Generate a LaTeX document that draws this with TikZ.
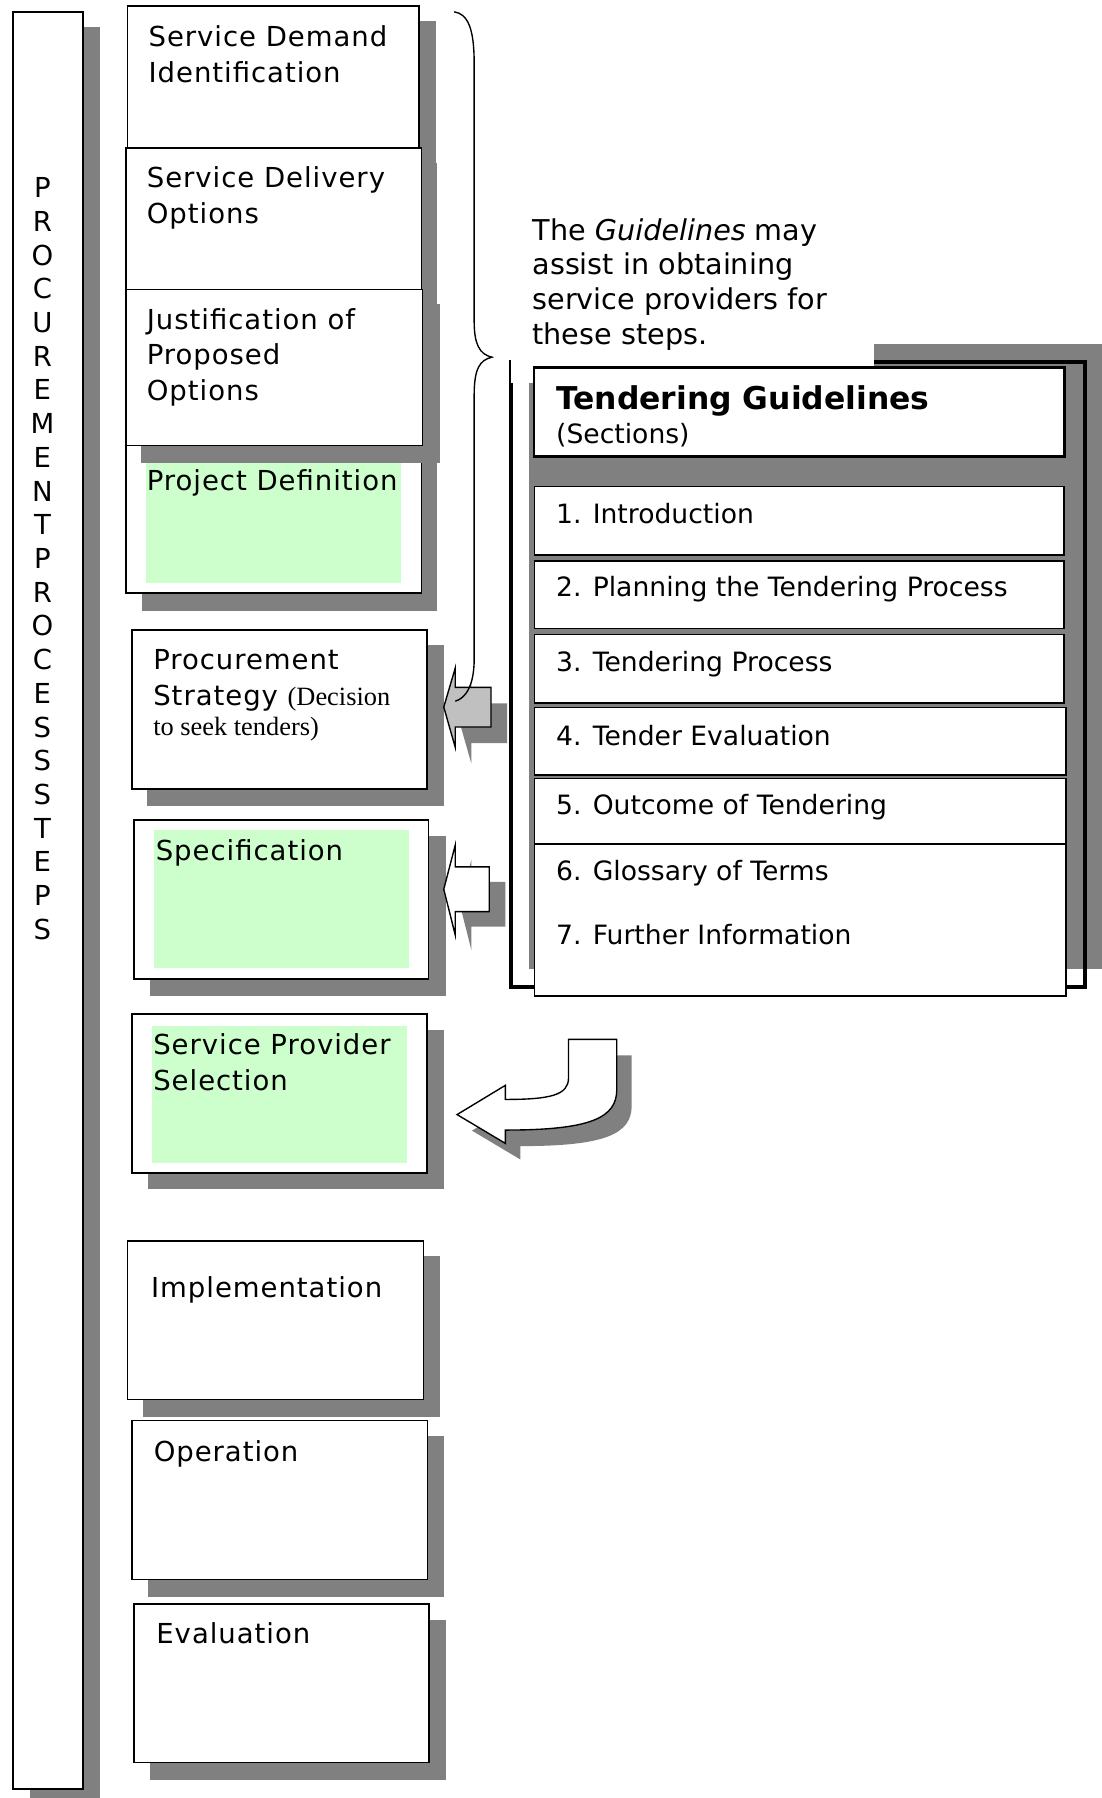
\documentclass[tikz,border=0pt]{standalone}
\usepackage{fontspec}
\usepackage{tikz}
\setmainfont{DejaVu Sans}
\newfontfamily\stepfont[LetterSpace=3.5]{DejaVu Sans}
\newfontfamily\notefont{Liberation Serif}
\definecolor{shadowgray}{RGB}{128,128,128}
\definecolor{paleGreen}{RGB}{204,255,204}
\definecolor{arrowgray}{RGB}{192,192,192}

\begin{document}
\begin{tikzpicture}[x=0.5pt,y=0.5pt]
\tikzstyle{every node}+=[inner sep=0pt]
\tikzstyle{shadowfill}=[fill=shadowgray]
\tikzstyle{stepbox}=[draw=black, fill=white, line width=0.75pt]
\tikzstyle{steptext}=[anchor=base west, align=left, font=\stepfont\fontsize{12}{15.5}\selectfont]
\tikzstyle{sectbox}=[draw=black, fill=white, line width=0.7pt]
\tikzstyle{secttext}=[anchor=base west, font=\fontsize{11.6}{14}\selectfont]
\tikzstyle{blockarrow}=[draw=black, line width=0.6pt]
\useasboundingbox (0,0) rectangle (961,-1568);
% side bar (multi-line nodes sit on the base of their last line)
\fill [shadowfill] (26.5,-23.4) rectangle (87,-1568);
\draw [stepbox] (11.5,-10.3) rectangle (72.1,-1560.3);
\node [anchor=base, align=center, font=\fontsize{12}{14.7}\selectfont] (sidelabel) at (37,-819.2)
  {P\\R\\O\\C\\U\\R\\E\\M\\E\\N\\T\\P\\R\\O\\C\\E\\S\\S\\S\\T\\E\\P\\S};
% project definition sits under the shadow of the box above
\fill [shadowfill] (123.5,-403) rectangle (381.5,-532.8);
\draw [stepbox] (109.6,-388.6) rectangle (367.5,-517);
\fill [paleGreen] (127,-403.4) rectangle (349.7,-508);
\node [steptext] (projdef) at (127.7,-427.6) {Project Definition};
\fill [shadowfill] (125,-18) rectangle (380,-142);
\draw [stepbox] (111.2,-5.5) rectangle (365.3,-129.3);
\node [steptext] (demand) at (129.2,-71.7) {Service Demand\\Identification};
\fill [shadowfill] (124,-142) rectangle (381.5,-265);
\draw [stepbox] (109.6,-129.3) rectangle (367.5,-252.4);
\node [steptext] (delivery) at (127.7,-194.6) {Service Delivery\\Options};
\fill [shadowfill] (123,-264.8) rectangle (383.7,-403.4);
\draw [stepbox] (110,-252.4) rectangle (368.4,-388.6);
\node [steptext] (justify) at (127.7,-349) {Justification of\\Proposed\\Options};
% procurement strategy
\fill [shadowfill] (128.3,-562.6) rectangle (386.9,-702.5);
\draw [stepbox] (115.2,-549.3) rectangle (372.2,-687.8);
\node [steptext] (strategy) at (133.3,-615)
  {Procurement\\Strategy {\notefont\fontsize{11.5}{13}\selectfont(Decision}};
\node [anchor=base west, font=\notefont\fontsize{11.5}{13}\selectfont] (strategynote) at (133.3,-641.8) {to seek tenders)};
% specification
\fill [shadowfill] (130.8,-729) rectangle (388.7,-868.7);
\draw [stepbox] (116.8,-715.1) rectangle (373.8,-853.7);
\fill [paleGreen] (133.9,-724.1) rectangle (356.6,-844.3);
\node [steptext] (spec) at (135.5,-750.2) {Specification};
% selection
\fill [shadowfill] (129,-898) rectangle (386.9,-1037.2);
\draw [stepbox] (115.2,-884.4) rectangle (372.2,-1022.9);
\fill [paleGreen] (132.7,-894.4) rectangle (355,-1013.9);
\node [steptext] (selection) at (133.3,-950.6) {Service Provider\\Selection};
% later steps
\fill [shadowfill] (125,-1095.7) rectangle (383.7,-1235.4);
\draw [stepbox] (111.3,-1082.1) rectangle (369.2,-1220.5);
\node [steptext] (implement) at (131.4,-1131.4) {Implementation};
\fill [shadowfill] (129,-1252) rectangle (387.2,-1392.4);
\draw [stepbox] (115.1,-1238.7) rectangle (372.7,-1377.4);
\node [steptext] (operation) at (133.7,-1274.3) {Operation};
\fill [shadowfill] (131,-1413) rectangle (389,-1552);
\draw [stepbox] (116.9,-1399) rectangle (374.4,-1537.1);
\node [steptext] (evaluation) at (136,-1433) {Evaluation};
% guidelines frame
\fill [shadowfill] (461,-300.4) rectangle (961,-845.4);
\draw [black, line width=1.75pt] (446,-315.4) rectangle (946,-860.4);
\fill [white] (446,-180) rectangle (762.6,-334);
\node [anchor=base west, align=left, font=\fontsize{12.5}{15.25}\selectfont] (note) at (464,-300.8)
  {The \textit{Guidelines} may\\assist in obtaining\\service providers for\\these steps.};
\draw [black, line width=1.2pt, fill=white] (465.7,-320.3) rectangle (928.4,-398.3);
\node [anchor=base west, font=\bfseries\fontsize{13.7}{16}\selectfont] (title) at (484.6,-357.5) {Tendering Guidelines};
\node [secttext] (sections) at (484.6,-386.6) {(Sections)};
\draw [sectbox] (466,-424.4) rectangle (928.1,-484);
\node [secttext] (sec1) at (484.6,-456.4) {1. Introduction};
\draw [sectbox] (466,-489) rectangle (928.1,-548);
\node [secttext] (sec2) at (484.6,-520.3) {2. Planning the Tendering Process};
\draw [sectbox] (466,-553.2) rectangle (928.1,-613.3);
\node [secttext] (sec3) at (484.6,-585.7) {3. Tendering Process};
\draw [sectbox] (466,-617.1) rectangle (929.8,-675.9);
\node [secttext] (sec4) at (484.6,-649.7) {4. Tender Evaluation};
\draw [sectbox] (466,-678.8) rectangle (929.8,-736);
\node [secttext] (sec5) at (484.6,-710.7) {5. Outcome of Tendering};
\draw [sectbox] (466,-736) rectangle (929.8,-868.6);
\node [secttext] (sec6) at (484.6,-768) {6. Glossary of Terms};
\node [secttext] (sec7) at (484.6,-824.1) {7. Further Information};
% block arrows
\fill [shadowfill, shift={(14,-14)}] (387,-616.6) -- (397,-582.6) -- (397,-599.4) -- (428.2,-599.4)
  -- (428.2,-634) -- (397,-634) -- (397,-651.7) -- cycle;
\draw [blockarrow, fill=arrowgray] (387,-616.6) -- (397,-582.6) -- (397,-599.4) -- (428.2,-599.4)
  -- (428.2,-634) -- (397,-634) -- (397,-651.7) -- cycle;
\fill [shadowfill, shift={(14,-13)}] (387,-775.5) -- (397,-737) -- (397,-756) -- (426.7,-756)
  -- (426.7,-795) -- (397,-795) -- (397,-815.3) -- cycle;
\draw [blockarrow, fill=white] (387,-775.5) -- (397,-737) -- (397,-756) -- (426.7,-756)
  -- (426.7,-795) -- (397,-795) -- (397,-815.3) -- cycle;
\fill [shadowfill, shift={(13,-14)}] (537.9,-906.4) -- (537.9,-950) .. controls (537.9,-975) and (515,-985.5) .. (440.7,-985.5)
  -- (440.7,-997.1) -- (398.6,-972) -- (440.7,-946.5) -- (440.7,-958.8)
  .. controls (480,-958.8) and (495.8,-955) .. (495.8,-940) -- (495.8,-906.4) -- cycle;
\draw [blockarrow, fill=white] (537.9,-906.4) -- (537.9,-950) .. controls (537.9,-975) and (515,-985.5) .. (440.7,-985.5)
  -- (440.7,-997.1) -- (398.6,-972) -- (440.7,-946.5) -- (440.7,-958.8)
  .. controls (480,-958.8) and (495.8,-955) .. (495.8,-940) -- (495.8,-906.4) -- cycle;
% brace over the first steps
\draw [black, line width=0.6pt] (396,-10.3) .. controls (408,-12) and (413.5,-25) .. (413.5,-55)
  -- (413.5,-280) .. controls (413.5,-300) and (418,-309) .. (429,-311.5)
  .. controls (418,-314) and (413.5,-322) .. (413.5,-345)
  -- (413.5,-575) .. controls (413.5,-598) and (406,-609) .. (397,-611.5);
\end{tikzpicture}
\end{document}
